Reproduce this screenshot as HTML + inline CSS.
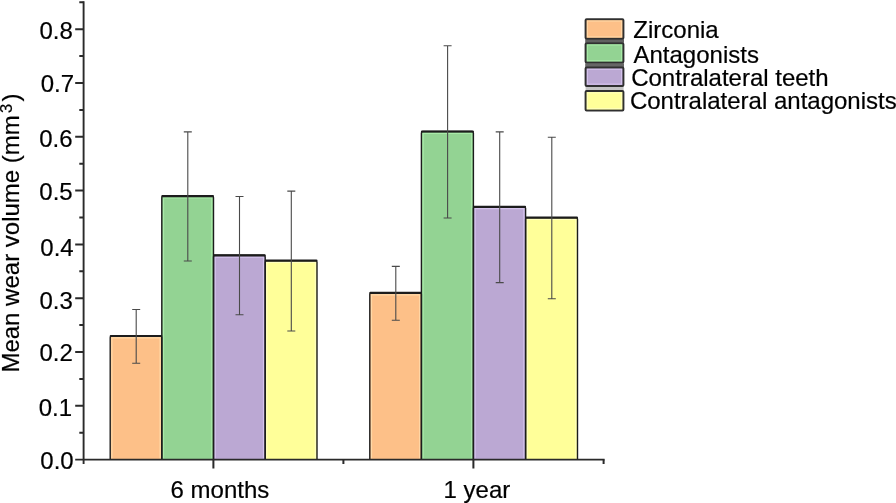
<!DOCTYPE html>
<html><head><meta charset="utf-8"><title>Chart</title><style>html,body{margin:0;padding:0;background:#fff}body{width:896px;height:503px;overflow:hidden}</style></head><body>
<svg width="896" height="503" viewBox="0 0 896 503" style="display:block;will-change:transform;font-family:'Liberation Sans',sans-serif">
<rect width="896" height="503" fill="#fff"/>
<style>text{stroke:#000;stroke-width:0.2px;paint-order:stroke}</style>
<rect x="110.2" y="335.9" width="51.6" height="123.7" fill="#FDC088"/>
<path d="M111.9 458.6V337.9H160.1V458.6" fill="none" stroke="#FFD9A8" stroke-width="1.2"/>
<rect x="161.8" y="196.0" width="51.7" height="263.6" fill="#93D393"/>
<path d="M163.5 458.6V198.0H211.8V458.6" fill="none" stroke="#A9EBA9" stroke-width="1.2"/>
<rect x="213.5" y="255.2" width="51.7" height="204.4" fill="#BBA8D3"/>
<path d="M215.2 458.6V257.2H263.5V458.6" fill="none" stroke="#D6C4EE" stroke-width="1.2"/>
<rect x="265.2" y="260.5" width="51.8" height="199.1" fill="#FFFF99"/>
<path d="M266.9 458.6V262.5H315.3V458.6" fill="none" stroke="#FFFFBE" stroke-width="1.2"/>
<rect x="369.8" y="292.8" width="51.6" height="166.8" fill="#FDC088"/>
<path d="M371.5 458.6V294.8H419.7V458.6" fill="none" stroke="#FFD9A8" stroke-width="1.2"/>
<rect x="421.4" y="131.4" width="52.0" height="328.2" fill="#93D393"/>
<path d="M423.1 458.6V133.4H471.7V458.6" fill="none" stroke="#A9EBA9" stroke-width="1.2"/>
<rect x="473.4" y="206.7" width="52.2" height="252.9" fill="#BBA8D3"/>
<path d="M475.1 458.6V208.7H523.9V458.6" fill="none" stroke="#D6C4EE" stroke-width="1.2"/>
<rect x="525.6" y="217.5" width="51.9" height="242.1" fill="#FFFF99"/>
<path d="M527.3 458.6V219.5H575.8V458.6" fill="none" stroke="#FFFFBE" stroke-width="1.2"/>
<path d="M110.2 459.6V337.4Q110.2 336.0 111.6 336.0H160.4Q161.8 336.0 161.8 337.4V459.6" fill="none" stroke="#1c1c1c" stroke-width="1.4" stroke-linejoin="round"/>
<path d="M110.8 336.0H161.2" fill="none" stroke="#1c1c1c" stroke-width="2.2" stroke-linecap="round"/>
<path d="M161.8 459.6V197.5Q161.8 196.1 163.2 196.1H212.1Q213.5 196.1 213.5 197.5V459.6" fill="none" stroke="#1c1c1c" stroke-width="1.4" stroke-linejoin="round"/>
<path d="M162.4 196.1H212.9" fill="none" stroke="#1c1c1c" stroke-width="2.2" stroke-linecap="round"/>
<path d="M213.5 459.6V256.7Q213.5 255.3 214.9 255.3H263.8Q265.2 255.3 265.2 256.7V459.6" fill="none" stroke="#1c1c1c" stroke-width="1.4" stroke-linejoin="round"/>
<path d="M214.1 255.3H264.6" fill="none" stroke="#1c1c1c" stroke-width="2.2" stroke-linecap="round"/>
<path d="M265.2 459.6V262.0Q265.2 260.6 266.6 260.6H315.6Q317.0 260.6 317.0 262.0V459.6" fill="none" stroke="#1c1c1c" stroke-width="1.4" stroke-linejoin="round"/>
<path d="M265.8 260.6H316.4" fill="none" stroke="#1c1c1c" stroke-width="2.2" stroke-linecap="round"/>
<path d="M369.8 459.6V294.3Q369.8 292.9 371.2 292.9H420.0Q421.4 292.9 421.4 294.3V459.6" fill="none" stroke="#1c1c1c" stroke-width="1.4" stroke-linejoin="round"/>
<path d="M370.4 292.9H420.8" fill="none" stroke="#1c1c1c" stroke-width="2.2" stroke-linecap="round"/>
<path d="M421.4 459.6V132.9Q421.4 131.5 422.8 131.5H472.0Q473.4 131.5 473.4 132.9V459.6" fill="none" stroke="#1c1c1c" stroke-width="1.4" stroke-linejoin="round"/>
<path d="M422.0 131.5H472.8" fill="none" stroke="#1c1c1c" stroke-width="2.2" stroke-linecap="round"/>
<path d="M473.4 459.6V208.2Q473.4 206.8 474.8 206.8H524.2Q525.6 206.8 525.6 208.2V459.6" fill="none" stroke="#1c1c1c" stroke-width="1.4" stroke-linejoin="round"/>
<path d="M474.0 206.8H525.0" fill="none" stroke="#1c1c1c" stroke-width="2.2" stroke-linecap="round"/>
<path d="M525.6 459.6V219.0Q525.6 217.6 527.0 217.6H576.1Q577.5 217.6 577.5 219.0V459.6" fill="none" stroke="#1c1c1c" stroke-width="1.4" stroke-linejoin="round"/>
<path d="M526.2 217.6H576.9" fill="none" stroke="#1c1c1c" stroke-width="2.2" stroke-linecap="round"/>
<path d="M136.2 309.5V363.3M132.2 309.5h8M132.2 363.3h8" stroke="#4a4a4a" stroke-width="1.1" fill="none"/>
<path d="M187.8 131.9V261.0M183.8 131.9h8M183.8 261.0h8" stroke="#4a4a4a" stroke-width="1.1" fill="none"/>
<path d="M239.5 196.5V314.8M235.5 196.5h8M235.5 314.8h8" stroke="#4a4a4a" stroke-width="1.1" fill="none"/>
<path d="M291.3 191.1V331.0M287.3 191.1h8M287.3 331.0h8" stroke="#4a4a4a" stroke-width="1.1" fill="none"/>
<path d="M395.8 266.4V320.2M391.8 266.4h8M391.8 320.2h8" stroke="#4a4a4a" stroke-width="1.1" fill="none"/>
<path d="M447.6 45.8V218.0M443.6 45.8h8M443.6 218.0h8" stroke="#4a4a4a" stroke-width="1.1" fill="none"/>
<path d="M499.7 131.9V282.6M495.7 131.9h8M495.7 282.6h8" stroke="#4a4a4a" stroke-width="1.1" fill="none"/>
<path d="M551.8 137.3V298.7M547.8 137.3h8M547.8 298.7h8" stroke="#4a4a4a" stroke-width="1.1" fill="none"/>
<path d="M83.6 1.2V463.9" stroke="#2a2a2a" stroke-width="1.9" fill="none"/>
<path d="M75.2 459.7H604.6" stroke="#2a2a2a" stroke-width="1.7" fill="none"/>
<path d="M79.3 432.7H83.6M75.2 405.8H83.6M79.3 378.9H83.6M75.2 352.0H83.6M79.3 325.1H83.6M75.2 298.2H83.6M79.3 271.3H83.6M75.2 244.4H83.6M79.3 217.5H83.6M75.2 190.6H83.6M79.3 163.7H83.6M75.2 136.8H83.6M79.3 109.9H83.6M75.2 83.0H83.6M79.3 56.1H83.6M75.2 29.2H83.6M79.3 2.3H83.6" stroke="#2a2a2a" stroke-width="2" fill="none"/>
<path d="M213.4 459.6v8.8M473.4 459.6v8.8M343.4 459.6v4.3M603.6 459.6v4.3" stroke="#2a2a2a" stroke-width="2" fill="none"/>
<text x="73.7" y="468.6" font-size="24" text-anchor="end" fill="#000">0.0</text>
<text x="72.1" y="415.7" font-size="24" text-anchor="end" fill="#000">0.1</text>
<text x="72.9" y="361.2" font-size="24" text-anchor="end" fill="#000">0.2</text>
<text x="72.9" y="308.9" font-size="24" text-anchor="end" fill="#000">0.3</text>
<text x="73.7" y="255.7" font-size="24" text-anchor="end" fill="#000">0.4</text>
<text x="72.7" y="199.5" font-size="24" text-anchor="end" fill="#000">0.5</text>
<text x="72.6" y="146.9" font-size="24" text-anchor="end" fill="#000">0.6</text>
<text x="74.1" y="92.3" font-size="24" text-anchor="end" fill="#000">0.7</text>
<text x="72.9" y="39.0" font-size="24" text-anchor="end" fill="#000">0.8</text>
<text x="219.9" y="497.8" font-size="24" text-anchor="middle" fill="#000">6 months</text>
<text x="476.9" y="497.8" font-size="24" text-anchor="middle" fill="#000">1 year</text>
<text transform="translate(19.4,372.6) rotate(-90)" font-size="24" fill="#000">Mean wear volume (mm<tspan dy="-7.5" font-size="16.5" dx="2.1">3</tspan><tspan dy="7.5" dx="2.3" font-size="24">)</tspan></text>
<rect x="585.2" y="39.2" width="38.8" height="3.6" fill="#606060"/>
<rect x="585.2" y="63.2" width="38.8" height="3.8" fill="#666"/>
<rect x="585.6" y="86.6" width="38" height="3.8" fill="#c4c4c4"/>
<rect x="585.6" y="19.2" width="37.8" height="19.5" rx="1" fill="#FDC088" stroke="#303030" stroke-width="2"/>
<rect x="587.4" y="21.0" width="34.2" height="15.9" fill="none" stroke="#FFD9A8" stroke-width="1"/>
<text x="633.3" y="37.8" font-size="24" fill="#000">Zirconia</text>
<rect x="585.6" y="43.2" width="37.8" height="19.4" rx="1" fill="#93D393" stroke="#303030" stroke-width="2"/>
<rect x="587.4" y="45.0" width="34.2" height="15.8" fill="none" stroke="#A9EBA9" stroke-width="1"/>
<text x="633.5" y="62.7" font-size="24" fill="#000">Antagonists</text>
<rect x="585.6" y="67.5" width="37.8" height="18.4" rx="1" fill="#BBA8D3" stroke="#303030" stroke-width="2"/>
<rect x="587.4" y="69.3" width="34.2" height="14.8" fill="none" stroke="#D6C4EE" stroke-width="1"/>
<text x="631.2" y="86.4" font-size="24" fill="#000">Contralateral teeth</text>
<rect x="585.6" y="91.1" width="37.8" height="19.4" rx="1" fill="#FFFF99" stroke="#303030" stroke-width="2"/>
<rect x="587.4" y="92.9" width="34.2" height="15.8" fill="none" stroke="#FFFFBE" stroke-width="1"/>
<text x="629.9" y="109.4" font-size="24" fill="#000">Contralateral antagonists</text>
</svg>
</body></html>
